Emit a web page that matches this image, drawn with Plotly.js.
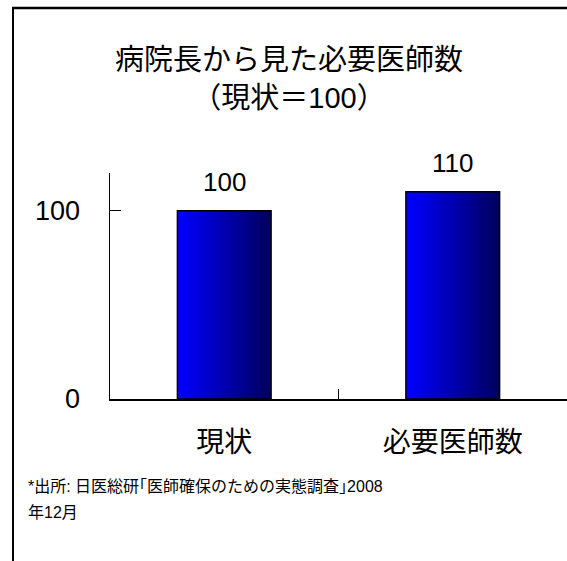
<!DOCTYPE html>
<html>
<head>
<meta charset="utf-8">
<script src="https://cdn.plot.ly/plotly-3.0.1.min.js"></script>
<style>
html,body{margin:0;padding:0;background:#fff;overflow:hidden;}
#chart{width:567px;height:561px;}
</style>
</head>
<body>
<div id="chart"></div>
<script>
// Data
const categories = ['現状', '必要医師数'];
const values = [100, 110];
const valueLabels = ['100', '110'];
const yTickVals = [0, 100];
const yTickText = ['0', '100'];
const titleLines = ['病院長から見た必要医師数', '（現状＝100）'];
const noteLines = ['*出所: 日医総研｢医師確保のための実態調査｣2008', '年12月'];

const FONT = 'Liberation Sans, Arial, "Noto Sans CJK JP", sans-serif';
const BAR_W = 0.41;
const N = 30;
const traces = [];
// gradient slices: bright blue -> dark navy
for (let i = 0; i < N; i++) {
  const t = i / (N - 1);
  const b = Math.round(255 - t * (255 - 95));
  const off = -BAR_W / 2 + i * BAR_W / N;
  const w = (i === N - 1) ? BAR_W / N : BAR_W / N + 0.012;
  traces.push({
    type: 'bar', x: categories, y: values,
    width: w, offset: off,
    marker: { color: 'rgb(0,0,' + b + ')', line: { width: 0 } },
    hoverinfo: 'skip', showlegend: false
  });
}
// outline
traces.push({
  type: 'bar', x: categories, y: values,
  width: BAR_W, offset: -BAR_W / 2,
  marker: { color: 'rgba(0,0,0,0)', line: { color: '#000', width: 1.5 } },
  showlegend: false
});

const annotations = categories.map((c, i) => ({
  x: c, y: values[i], xref: 'x', yref: 'y',
  text: valueLabels[i], showarrow: false, yanchor: 'bottom', yshift: 12,
  font: { family: FONT, size: 26, color: '#000' }
}));
annotations.push({
  xref: 'paper', yref: 'paper', x: (26 - 110) / 457, y: (399 - 476) / 226,
  xanchor: 'left', yanchor: 'top', align: 'left', showarrow: false,
  text: noteLines[0], font: { family: FONT, size: 16, color: '#000' }
});
annotations.push({
  xref: 'paper', yref: 'paper', x: (26 - 110) / 457, y: (399 - 502) / 226,
  xanchor: 'left', yanchor: 'top', align: 'left', showarrow: false,
  text: noteLines[1], font: { family: FONT, size: 16, color: '#000' }
});

const PX = px => (px - 110) / 457;   // pixel -> paper x
const PY = py => (399 - py) / 226;   // pixel -> paper y

const layout = {
  width: 567, height: 561,
  margin: { l: 110, r: 0, t: 173, b: 162 },
  paper_bgcolor: '#fff', plot_bgcolor: '#fff',
  barmode: 'overlay',
  title: {
    text: titleLines.join('<br>'),
    font: { family: FONT, size: 29, color: '#000' },
    x: 289 / 567, xref: 'container', xanchor: 'center',
    y: 1 - 70 / 561, yref: 'container', yanchor: 'top'
  },
  xaxis: {
    type: 'category', range: [-0.5, 1.5],
    showline: true, linecolor: '#000', linewidth: 1.5,
    ticks: 'inside', tickson: 'boundaries', ticklen: 10, tickwidth: 1.5, tickcolor: '#000',
    showgrid: false, zeroline: false,
    tickfont: { family: FONT, size: 28, color: '#000' },
    ticklabelstandoff: 18
  },
  yaxis: {
    range: [0, 120],
    tickvals: yTickVals, ticktext: yTickText,
    showline: true, linecolor: '#000', linewidth: 1.5,
    ticks: 'inside', ticklen: 11, tickwidth: 1.5, tickcolor: '#000',
    showgrid: false, zeroline: false,
    tickfont: { family: FONT, size: 27, color: '#000' },
    ticklabelstandoff: 23
  },
  shapes: [
    { type: 'line', xref: 'paper', yref: 'paper', x0: PX(12), x1: PX(580),
      y0: PY(8), y1: PY(8), line: { color: '#000', width: 2.5 }, layer: 'above' },
    { type: 'line', xref: 'paper', yref: 'paper', x0: PX(13), x1: PX(13),
      y0: PY(7), y1: PY(570), line: { color: '#000', width: 2 }, layer: 'above' }
  ],
  annotations: annotations
};

Plotly.newPlot('chart', traces, layout, { displayModeBar: false, staticPlot: true });
</script>
</body>
</html>
